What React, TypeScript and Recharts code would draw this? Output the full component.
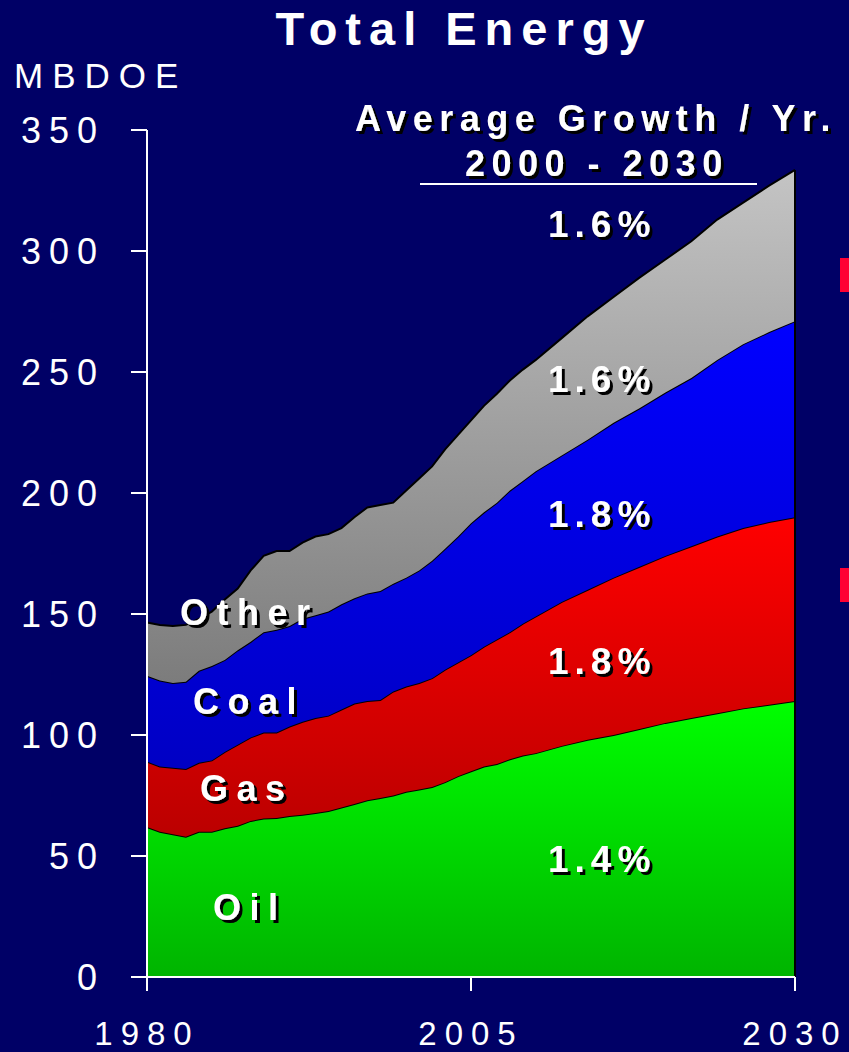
import React from "react";
import { AreaChart, Area, XAxis, YAxis, ReferenceLine } from "recharts";

const FONT = "'Liberation Sans', Arial, Helvetica, sans-serif";
const BG = "#000066";

// years sampled: annual history, every 2 years in the outlook
const years = [
  1980, 1981, 1982, 1983, 1984, 1985, 1986, 1987, 1988, 1989, 1990, 1991, 1992, 1993, 1994,
  1995, 1996, 1997, 1998, 1999, 2000, 2001, 2002, 2003, 2004, 2005, 2006, 2007, 2008, 2009,
  2010, 2012, 2014, 2016, 2018, 2020, 2022, 2024, 2026, 2028, 2030,
];

// cumulative top of each band (MBDOE)
const oilTop = [
  62, 60, 59, 58, 60, 60, 61.5, 62.5, 64.5, 65.5, 65.7, 66.5, 67, 67.8, 68.6,
  70, 71.5, 73, 74, 75, 76.5, 77.5, 78.5, 80.5, 83, 85, 87, 88, 90, 91.5,
  92.5, 95.5, 98, 100, 102.5, 105, 107, 109, 111, 112.5, 114,
];
const gasTop = [
  89, 87, 86.5, 86, 88.5, 89.5, 93, 96, 99, 101, 101, 103.5, 105.5, 107, 108,
  110.5, 113, 114, 114.5, 118, 120, 121.5, 123.5, 127, 130, 133, 136.5, 139.5, 142.5, 146,
  149, 155, 160, 165, 169.5, 174, 178, 182, 185.5, 188, 190,
];
const coalTop = [
  124.5, 122.5, 121.5, 122, 126.5, 128.5, 131, 135, 138.5, 142.5, 143.5, 145, 148, 149.5, 151,
  154, 156.5, 158.5, 159.5, 162.5, 165, 168, 172, 177, 182, 187.5, 192, 196, 201, 205,
  209, 215.5, 222, 229, 235, 241.5, 247.5, 255, 261.5, 266.5, 271,
];
const otherTop = [
  146.5, 145.5, 145, 145.5, 148, 151, 156, 160.5, 168, 174, 176, 176, 179.5, 182, 183,
  185.5, 190, 194, 195, 196, 201, 206, 211, 218, 224, 230, 236, 241, 246.5, 251,
  255, 264, 273, 281, 289, 296.5, 304, 313, 320, 327, 333.5,
];

const yTicks = [0, 50, 100, 150, 200, 250, 300, 350];
const xTicks = [1980, 2005, 2030];

const growthLabels = ["1.6%", "1.6%", "1.8%", "1.8%", "1.4%"];
const seriesLabels = ["Other", "Coal", "Gas", "Oil"];

// stacked table: each band is its top minus the band below
const data = years.map((year, i) => ({
  year,
  oil: oilTop[i],
  gas: +(gasTop[i] - oilTop[i]).toFixed(2),
  coal: +(coalTop[i] - gasTop[i]).toFixed(2),
  other: +(otherTop[i] - coalTop[i]).toFixed(2),
}));

const YTick = ({ x, y, payload }: any) => (
  <text x={x} y={y + 13} textAnchor="end" fill="#fff" fontSize={36} fontFamily={FONT} letterSpacing={8}>
    {payload.value}
  </text>
);

const XTick = ({ x, y, payload }: any) => (
  <text x={x} y={y + 52} textAnchor="middle" fill="#fff" fontSize={33} fontFamily={FONT} letterSpacing={8}>
    {payload.value}
  </text>
);

// bold white text with a hard black drop shadow
const ShadowText = ({ x, y, size = 36, spacing = 6, anchor = "start", children }: any) => (
  <text
    x={x}
    y={y}
    fill="#fff"
    fontFamily={FONT}
    fontWeight="bold"
    fontSize={size}
    letterSpacing={spacing}
    textAnchor={anchor}
    filter="url(#hardShadow)"
  >
    {children}
  </text>
);

const growthY = [237, 392, 527, 674, 872];
const seriesPos = [
  { x: 180, y: 625 },
  { x: 193, y: 714 },
  { x: 200, y: 801 },
  { x: 213, y: 920 },
];

export default function App() {
  return (
    <div style={{ position: "absolute", left: 0, top: 0, width: 849, height: 1052, background: BG, overflow: "hidden" }}>
      <AreaChart width={849} height={1052} data={data} margin={{ top: 130, right: 54, bottom: 0, left: 0 }}>
        <defs>
          <linearGradient id="gOil" x1="0" y1="0" x2="0" y2="1">
            <stop offset="0%" stopColor="#00ff00" />
            <stop offset="100%" stopColor="#00b400" />
          </linearGradient>
          <linearGradient id="gGas" x1="0" y1="0" x2="0" y2="1">
            <stop offset="0%" stopColor="#ff0000" />
            <stop offset="100%" stopColor="#bb0000" />
          </linearGradient>
          <linearGradient id="gCoal" x1="0" y1="0" x2="0" y2="1">
            <stop offset="0%" stopColor="#0000ff" />
            <stop offset="100%" stopColor="#0000c4" />
          </linearGradient>
          <linearGradient id="gOther" x1="0" y1="0" x2="0" y2="1">
            <stop offset="0%" stopColor="#c4c4c4" />
            <stop offset="100%" stopColor="#7c7c7c" />
          </linearGradient>
        </defs>
        <XAxis
          dataKey="year"
          type="number"
          domain={[1980, 2030]}
          ticks={xTicks}
          height={75}
          axisLine={{ stroke: "#fff", strokeWidth: 2 }}
          tickLine={{ stroke: "#fff", strokeWidth: 2 }}
          tickSize={14}
          tick={<XTick />}
        />
        <YAxis
          type="number"
          domain={[0, 350]}
          ticks={yTicks}
          width={147}
          axisLine={{ stroke: "#fff", strokeWidth: 2 }}
          tickLine={{ stroke: "#fff", strokeWidth: 2 }}
          tickSize={16}
          tickMargin={26}
          tick={<YTick />}
        />
        <Area type="linear" dataKey="oil" stackId="e" stroke="#000" strokeWidth={2} fill="url(#gOil)" fillOpacity={1} isAnimationActive={false} />
        <Area type="linear" dataKey="gas" stackId="e" stroke="#000" strokeWidth={2} fill="url(#gGas)" fillOpacity={1} isAnimationActive={false} />
        <Area type="linear" dataKey="coal" stackId="e" stroke="#000" strokeWidth={2} fill="url(#gCoal)" fillOpacity={1} isAnimationActive={false} />
        <Area type="linear" dataKey="other" stackId="e" stroke="#000" strokeWidth={2} fill="url(#gOther)" fillOpacity={1} isAnimationActive={false} />
        <ReferenceLine
          segment={[{ x: 2030, y: 0 }, { x: 2030, y: otherTop[otherTop.length - 1] }]}
          stroke="#000"
          strokeWidth={2}
        />
      </AreaChart>

      <svg width={849} height={1052} style={{ position: "absolute", left: 0, top: 0, pointerEvents: "none" }}>
        <defs>
          <filter id="hardShadow" x="-10%" y="-20%" width="130%" height="150%">
            <feDropShadow dx={3} dy={3} stdDeviation={0} floodColor="#000" floodOpacity={1} />
          </filter>
        </defs>
        <text x={464} y={45} textAnchor="middle" fill="#fff" fontFamily={FONT} fontWeight="bold" fontSize={47} letterSpacing={8}>
          Total Energy
        </text>
        <text x={14} y={88} fill="#fff" fontFamily={FONT} fontSize={35} letterSpacing={9}>
          MBDOE
        </text>
        <ShadowText x={355} y={131} spacing={6.5}>Average Growth / Yr.</ShadowText>
        <ShadowText x={465} y={176} spacing={6.5}>2000 - 2030</ShadowText>
        <line x1={420} x2={757} y1={184} y2={184} stroke="#fff" strokeWidth={2} />
        {growthLabels.map((g, i) => (
          <ShadowText key={i} x={548} y={growthY[i]} size={37} spacing={6}>{g}</ShadowText>
        ))}
        {seriesLabels.map((s, i) => (
          <ShadowText key={s} x={seriesPos[i].x} y={seriesPos[i].y} size={36} spacing={8.5}>{s}</ShadowText>
        ))}
      </svg>

      <div style={{ position: "absolute", left: 840, top: 258, width: 9, height: 34, background: "#ff0033" }} />
      <div style={{ position: "absolute", left: 840, top: 568, width: 9, height: 34, background: "#ff0033" }} />
    </div>
  );
}
